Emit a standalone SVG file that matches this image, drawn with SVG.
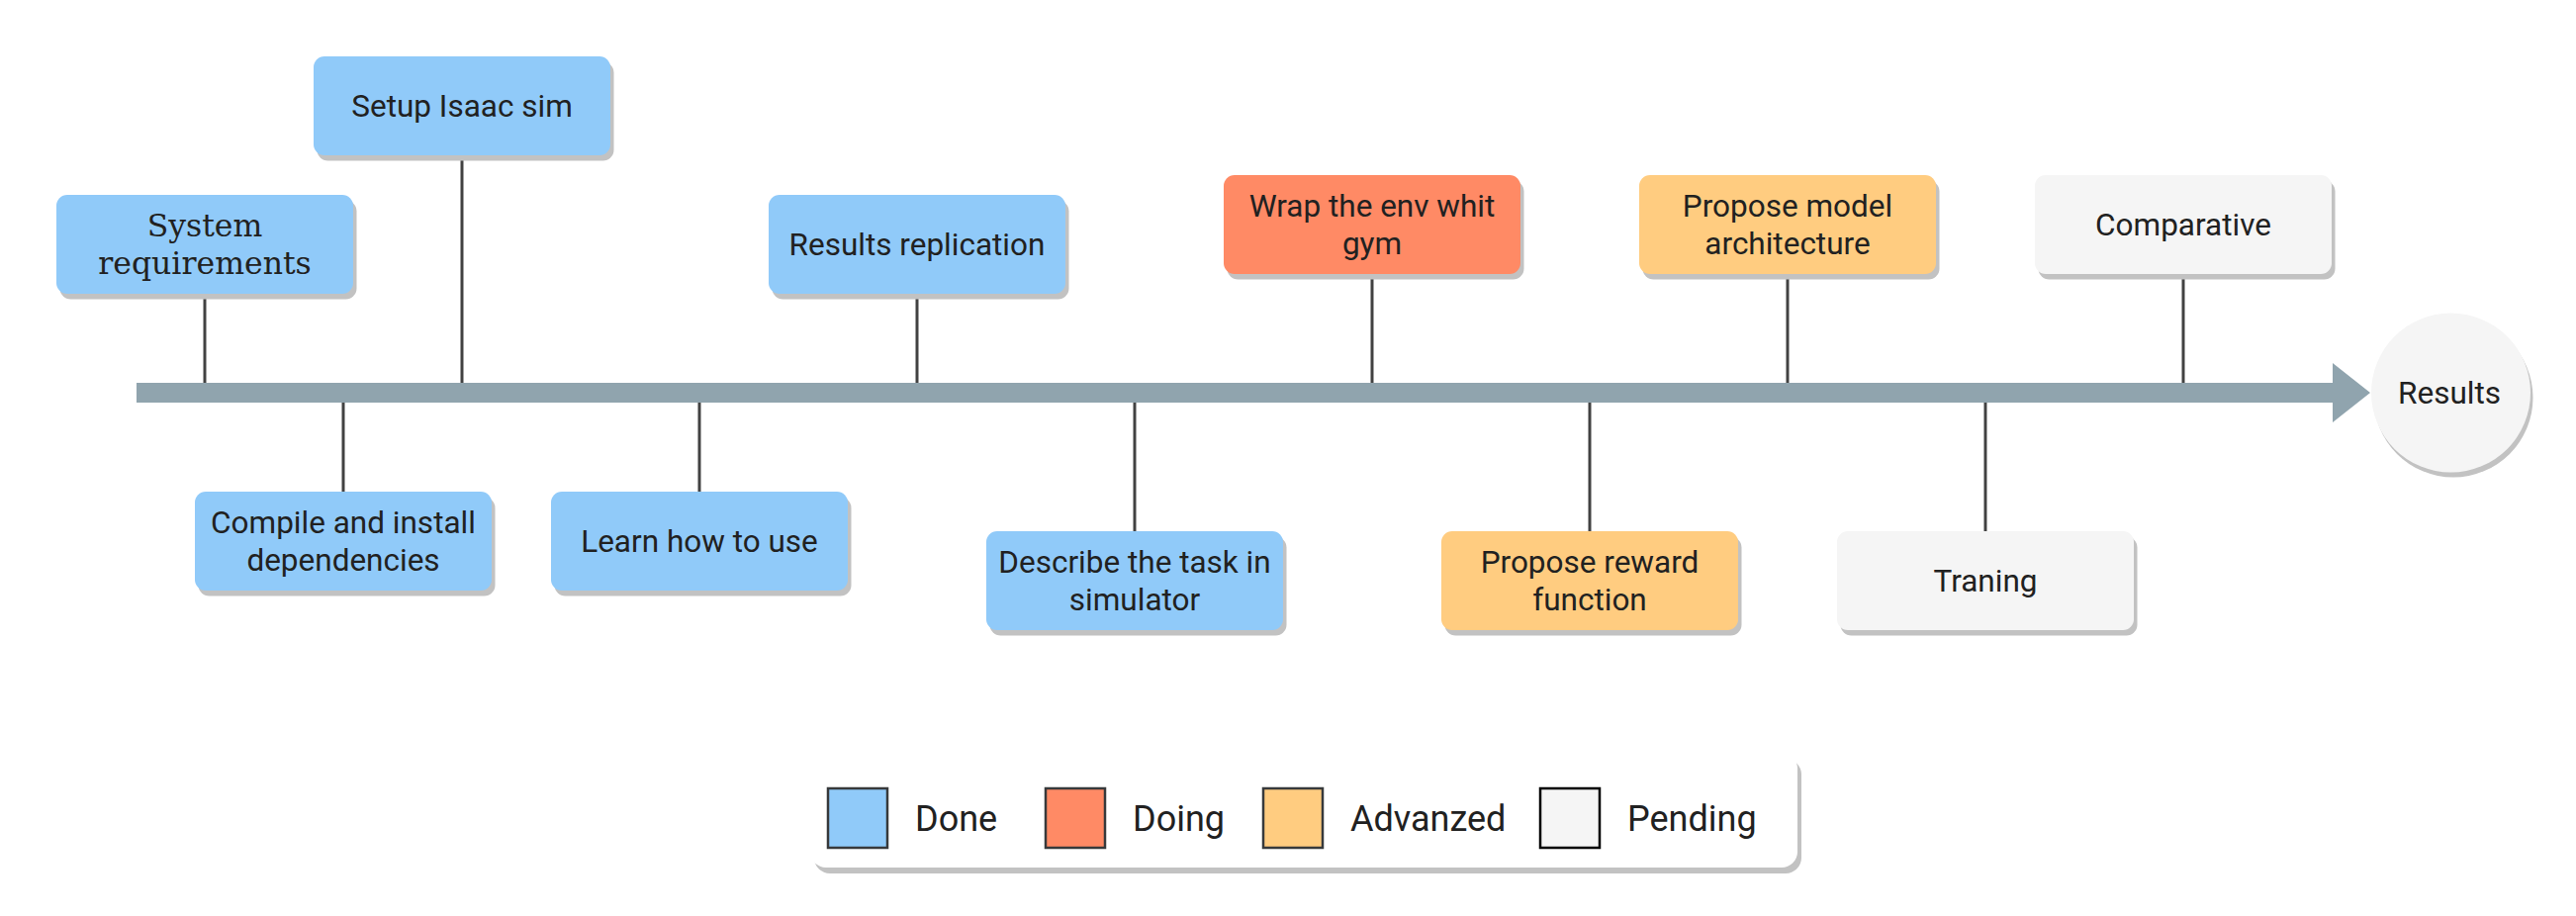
<svg xmlns="http://www.w3.org/2000/svg" width="2604" height="926" viewBox="0 0 2604 926">
<style>
.sh{fill:#C2C2C2}
.done{fill:#90CAF9}
.doing{fill:#FF8A65}
.adv{fill:#FFCC80}
.pend{fill:#F5F5F5}
.t{font-family:Roboto,"Liberation Sans",sans-serif;font-size:31.5px;fill:#212121;text-anchor:middle}
.serif{font-family:"DejaVu Serif","Liberation Serif",serif}
.conn{stroke:#424242;stroke-width:3;fill:none}
.bar{fill:#90A4AE}
.lg{font-family:Roboto,"Liberation Sans",sans-serif;font-size:36px;fill:#212121}
.sw{stroke:#37393B;stroke-width:2.5}
</style>
<rect width="2604" height="926" fill="#FFFFFF"/>
<g id="connectors">
<path class="bar" d="M138,387 H2358 V367 L2396,397 L2358,427 V407 H138 Z"/>
<line class="conn" x1="207" y1="297" x2="207" y2="387"/>
<line class="conn" x1="467" y1="157" x2="467" y2="387"/>
<line class="conn" x1="927" y1="297" x2="927" y2="387"/>
<line class="conn" x1="1387" y1="277" x2="1387" y2="387"/>
<line class="conn" x1="1807" y1="277" x2="1807" y2="387"/>
<line class="conn" x1="2207" y1="277" x2="2207" y2="387"/>
<line class="conn" x1="347" y1="407" x2="347" y2="497"/>
<line class="conn" x1="707" y1="407" x2="707" y2="497"/>
<line class="conn" x1="1147" y1="407" x2="1147" y2="537"/>
<line class="conn" x1="1607" y1="407" x2="1607" y2="537"/>
<line class="conn" x1="2007" y1="407" x2="2007" y2="537"/>
</g>
<g id="system-requirements">
<rect class="sh" x="60.5" y="202.5" width="300" height="100" rx="11"/>
<rect class="done" x="57" y="197" width="300" height="100" rx="11"/>
<text class="t serif" x="207" y="239">System</text>
<text class="t serif" x="207" y="277">requirements</text>
</g>
<g id="setup-isaac-sim">
<rect class="sh" x="320.5" y="62.5" width="300" height="100" rx="11"/>
<rect class="done" x="317" y="57" width="300" height="100" rx="11"/>
<text class="t" x="467" y="118">Setup Isaac sim</text>
</g>
<g id="results-replication">
<rect class="sh" x="780.5" y="202.5" width="300" height="100" rx="11"/>
<rect class="done" x="777" y="197" width="300" height="100" rx="11"/>
<text class="t" x="927" y="258">Results replication</text>
</g>
<g id="wrap-env">
<rect class="sh" x="1240.5" y="182.5" width="300" height="100" rx="11"/>
<rect class="doing" x="1237" y="177" width="300" height="100" rx="11"/>
<text class="t" x="1387" y="219">Wrap the env whit</text>
<text class="t" x="1387" y="257">gym</text>
</g>
<g id="propose-model">
<rect class="sh" x="1660.5" y="182.5" width="300" height="100" rx="11"/>
<rect class="adv" x="1657" y="177" width="300" height="100" rx="11"/>
<text class="t" x="1807" y="219">Propose model</text>
<text class="t" x="1807" y="257">architecture</text>
</g>
<g id="comparative">
<rect class="sh" x="2060.5" y="182.5" width="300" height="100" rx="11"/>
<rect class="pend" x="2057" y="177" width="300" height="100" rx="11"/>
<text class="t" x="2207" y="238">Comparative</text>
</g>
<g id="compile-install">
<rect class="sh" x="200.5" y="502.5" width="300" height="100" rx="11"/>
<rect class="done" x="197" y="497" width="300" height="100" rx="11"/>
<text class="t" x="347" y="539">Compile and install</text>
<text class="t" x="347" y="577">dependencies</text>
</g>
<g id="learn-how-to-use">
<rect class="sh" x="560.5" y="502.5" width="300" height="100" rx="11"/>
<rect class="done" x="557" y="497" width="300" height="100" rx="11"/>
<text class="t" x="707" y="558">Learn how to use</text>
</g>
<g id="describe-task">
<rect class="sh" x="1000.5" y="542.5" width="300" height="100" rx="11"/>
<rect class="done" x="997" y="537" width="300" height="100" rx="11"/>
<text class="t" x="1147" y="579">Describe the task in</text>
<text class="t" x="1147" y="617">simulator</text>
</g>
<g id="propose-reward">
<rect class="sh" x="1460.5" y="542.5" width="300" height="100" rx="11"/>
<rect class="adv" x="1457" y="537" width="300" height="100" rx="11"/>
<text class="t" x="1607" y="579">Propose reward</text>
<text class="t" x="1607" y="617">function</text>
</g>
<g id="traning">
<rect class="sh" x="1860.5" y="542.5" width="300" height="100" rx="11"/>
<rect class="pend" x="1857" y="537" width="300" height="100" rx="11"/>
<text class="t" x="2007" y="598">Traning</text>
</g>
<g id="results">
<circle class="sh" cx="2480" cy="402" r="80.5"/>
<circle class="pend" cx="2477.5" cy="397" r="80.5"/>
<text class="t" x="2476" y="408">Results</text>
</g>
<g id="legend">
<rect class="sh" x="823" y="767" width="998" height="116" rx="16"/>
<rect fill="#FFFFFF" x="819" y="761" width="998" height="116" rx="16"/>
<rect class="sw done" x="837" y="797" width="60" height="60"/>
<text class="lg" x="925" y="840">Done</text>
<rect class="sw doing" x="1057" y="797" width="60" height="60"/>
<text class="lg" x="1145" y="840">Doing</text>
<rect class="sw adv" x="1277" y="797" width="60" height="60"/>
<text class="lg" x="1365" y="840">Advanzed</text>
<rect class="pend" stroke="#000000" stroke-width="2.5" x="1557" y="797" width="60" height="60"/>
<text class="lg" x="1645" y="840">Pending</text>
</g>
</svg>
